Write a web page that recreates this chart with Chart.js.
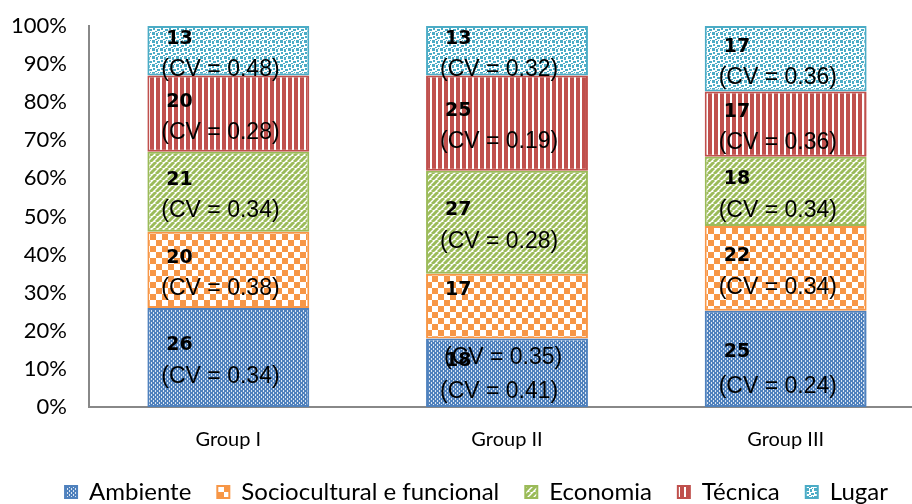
<!DOCTYPE html>
<html>
<head>
<meta charset="utf-8">
<script src="https://cdn.jsdelivr.net/npm/chart.js@4/dist/chart.umd.min.js"></script>
<style>
  html, body { margin: 0; padding: 0; background: #fff; overflow: hidden; }
  canvas { display: block; }
</style>
</head>
<body>
<canvas id="chart" width="925" height="504"></canvas>
<script>
// Categories and series (raw scores per group)
const categories = ['Group I', 'Group II', 'Group III'];
const seriesNames = ['Ambiente', 'Sociocultural e funcional', 'Economia', 'Técnica', 'Lugar'];
const ambiente = [26, 18, 25];
const sociocultural = [20, 17, 22];
const economia = [21, 27, 18];
const tecnica = [20, 25, 17];
const lugar = [13, 13, 17];

// Coefficients of variation shown under each score
const ambienteCV = [0.34, 0.41, 0.24];
const socioculturalCV = [0.38, 0.35, 0.34];
const economiaCV = [0.34, 0.28, 0.34];
const tecnicaCV = [0.28, 0.19, 0.36];
const lugarCV = [0.48, 0.32, 0.36];

// Percentage axis ticks
const yTickValues = [0, 10, 20, 30, 40, 50, 60, 70, 80, 90, 100];

const canvas = document.getElementById('chart');
const ctx = canvas.getContext('2d');

// ---- fill patterns ----
function makeTile(w, h, draw) {
  const c = document.createElement('canvas');
  c.width = w; c.height = h;
  draw(c.getContext('2d'));
  return ctx.createPattern(c, 'repeat');
}
const BLUE = '#4f81bd', ORANGE = '#f79646', GREEN = '#9bbb59', RED = '#c0504d', CYAN = '#4bacc6';

const patAmbiente = makeTile(4, 4, g => {
  g.fillStyle = BLUE; g.fillRect(0, 0, 4, 4);
  g.fillStyle = 'rgba(255,255,255,0.8)';
  g.fillRect(1, 0, 1, 2);
  g.fillRect(3, 2, 1, 2);
});
const patSocio = makeTile(12, 12, g => {
  g.fillStyle = '#fff'; g.fillRect(0, 0, 12, 12);
  g.fillStyle = ORANGE; g.fillRect(0, 0, 6, 6); g.fillRect(6, 6, 6, 6);
});
const patEconomia = makeTile(6, 6, g => {
  g.fillStyle = '#fff'; g.fillRect(0, 0, 6, 6);
  g.strokeStyle = GREEN; g.lineWidth = 3;
  for (const k of [-6, 0, 6]) { g.beginPath(); g.moveTo(k, 6); g.lineTo(k + 6, 0); g.stroke(); }
});
const patTecnica = makeTile(6, 1, g => {
  g.fillStyle = '#fff'; g.fillRect(0, 0, 6, 1);
  g.fillStyle = RED; g.fillRect(0, 0, 4, 1);
});
const patLugar = makeTile(8, 8, g => {
  g.fillStyle = '#fff'; g.fillRect(0, 0, 8, 8);
  g.fillStyle = CYAN;
  [[0,0,3,3],[4,1,2,3],[1,4,2,2],[5,5,3,2],[3,7,2,1],[6,0,1,1]]
    .forEach(r => g.fillRect(r[0], r[1], r[2], r[3]));
});

// ---- 100% stacking ----
const totals = categories.map((_, i) => ambiente[i] + sociocultural[i] + economia[i] + tecnica[i] + lugar[i]);
const share = arr => arr.map((v, i) => v / totals[i] * 100);

function series(idx, raw, cv, fill, color) {
  return {
    label: seriesNames[idx],
    data: share(raw),
    raw: raw,
    cv: cv,
    backgroundColor: fill,
    borderColor: color,
    borderWidth: 2,
    borderSkipped: false,
    barPercentage: 0.581,
    categoryPercentage: 1
  };
}

// Two-line labels (score, CV) inside each segment
const segmentLabels = {
  id: 'segmentLabels',
  afterDatasetsDraw(chart, args, opts) {
    const c = chart.ctx;
    chart.data.datasets.forEach((ds, di) => {
      chart.getDatasetMeta(di).data.forEach((bar, i) => {
        const mid = (bar.y + bar.base) / 2;
        const n = (opts.nudges[di] && opts.nudges[di][i]) || {};
        c.save();
        c.fillStyle = '#000';
        c.textAlign = 'left';
        c.textBaseline = 'middle';
        c.font = 'bold 19px "DejaVu Sans"';
        c.fillText(String(ds.raw[i]), bar.x - 62 + (n.vx || 0), mid - 12 + (n.vy || 0));
        c.font = '23px "Liberation Sans"';
        c.fillText('(CV = ' + ds.cv[i].toFixed(2) + ')', bar.x - 67 + (n.cx || 0), mid + 19 + (n.cy || 0));
        c.restore();
      });
    });
  }
};

// Fixed-height legend strip at the bottom, drawn a little right of the canvas centre
const legendBox = {
  id: 'legendBox',
  afterInit(chart) {
    const lg = chart.legend;
    if (!lg) return;
    const fit = lg.fit.bind(lg);
    lg.fit = function () { fit(); this.height = 50; };
    const draw = lg.draw.bind(lg);
    lg.draw = function (area) {
      const c = this.ctx;
      c.save();
      c.translate(14, 0);
      draw(area);
      c.restore();
    };
  }
};

new Chart(ctx, {
  type: 'bar',
  data: {
    labels: categories,
    datasets: [
      series(0, ambiente, ambienteCV, patAmbiente, BLUE),
      series(1, sociocultural, socioculturalCV, patSocio, ORANGE),
      series(2, economia, economiaCV, patEconomia, GREEN),
      series(3, tecnica, tecnicaCV, patTecnica, RED),
      series(4, lugar, lugarCV, patLugar, CYAN)
    ]
  },
  plugins: [segmentLabels, legendBox],
  options: {
    responsive: false,
    animation: false,
    layout: { padding: { left: 0, top: 26, right: 0, bottom: 0 } },
    plugins: {
      legend: {
        position: 'bottom',
        labels: {
          boxWidth: 12, boxHeight: 12, padding: 26, color: '#000',
          font: { family: 'Lato', size: 24 }
        }
      },
      tooltip: { enabled: false },
      segmentLabels: {
        nudges: {
          0: { 2: { vy: 5, cy: 9 } },
          1: { 1: { vy: -4, cx: 4, cy: 33 } }
        }
      }
    },
    scales: {
      x: {
        stacked: true,
        grid: { display: false, drawTicks: false },
        border: { display: true, color: '#888', width: 2 },
        ticks: { color: '#000', padding: 21, font: { family: 'Lato', size: 20 } },
        afterFit: s => { s.height = 47; }
      },
      y: {
        stacked: true,
        min: 0, max: 100,
        grid: { display: false, drawTicks: false },
        border: { display: true, color: '#888', width: 2 },
        afterBuildTicks: s => { s.ticks = yTickValues.map(v => ({ value: v })); },
        ticks: {
          color: '#000', padding: 22, font: { family: 'Lato', size: 22 },
          callback: v => v + '%'
        },
        afterFit: s => { s.width = 89; s.paddingTop = 0; s.paddingBottom = 0; }
      }
    }
  }
});
</script>
</body>
</html>
